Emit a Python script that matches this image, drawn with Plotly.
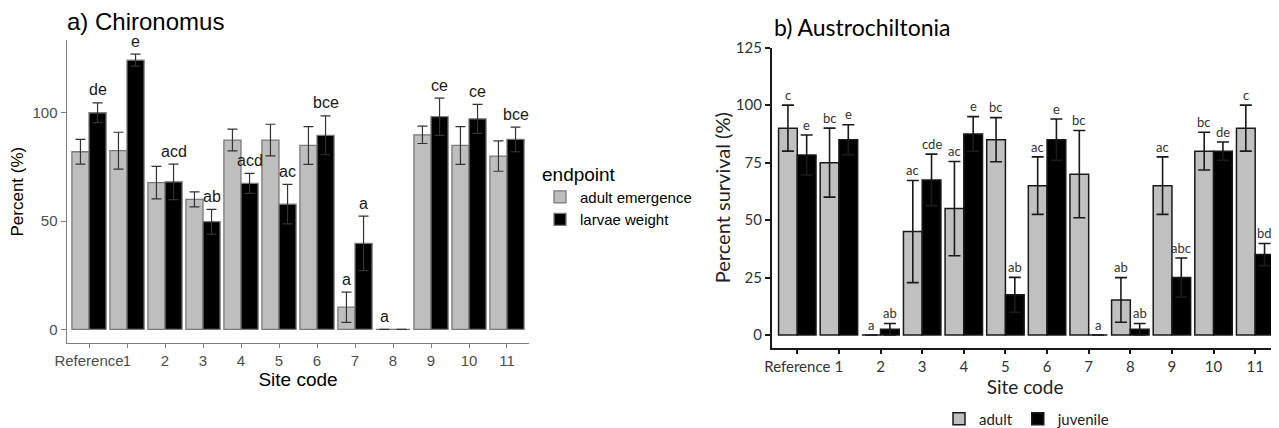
import plotly.graph_objects as go

# ---------------- data ----------------
sites = ["Reference", "1", "2", "3", "4", "5", "6", "7", "8", "9", "10", "11"]

# a) Chironomus
chiro_adult = [82, 82.5, 67.7, 60, 87.4, 87.4, 84.9, 10.2, 0, 89.8, 84.9, 80]
chiro_adult_se = [5.7, 8.5, 7.5, 3.5, 5, 7.3, 8.7, 7, 0, 4, 8.7, 7]
chiro_larvae = [100, 124.3, 68.1, 49.7, 67.4, 57.8, 89.6, 39.7, 0, 98.2, 97.2, 87.7]
chiro_larvae_se = [4.6, 2.8, 8.2, 5.7, 4.6, 9.1, 9, 12.6, 0, 8.6, 6.7, 5.7]
chiro_adult_letters = ["", "", "", "", "", "", "", "a", "a", "", "", ""]
chiro_larvae_letters = ["de", "e", "acd", "ab", "acd", "ac", "bce", "a", "", "ce", "ce", "bce"]

# b) Austrochiltonia
aus_adult = [90, 75, 0, 45, 55, 85, 65, 70, 15.3, 65, 80, 90]
aus_adult_se = [10, 15, 0, 22.2, 20.5, 9.6, 12.5, 19, 9.7, 12.5, 8.2, 10]
aus_juv = [78.3, 85, 2.5, 67.5, 87.5, 17.5, 85, 0, 2.5, 25, 80, 35]
aus_juv_se = [8.7, 6.5, 2.5, 11.2, 7.5, 7.6, 9, 0, 2.5, 8.5, 4, 4.8]
aus_adult_letters = ["c", "bc", "a", "ac", "ac", "bc", "ac", "bc", "ab", "ac", "bc", "c"]
aus_juv_letters = ["e", "e", "ab", "cde", "e", "ab", "e", "a", "ab", "abc", "de", "bd"]

# ---------------- styling ----------------
OFF = 8                     # page body margin
W, H = 1279 - OFF, 428 - OFF
FA = "Liberation Sans, Arial, sans-serif"
FB = "Lato, Open Sans, sans-serif"
GRAY = "#BEBEBE"


def px_x(p):
    return (p - OFF) / W


def px_y(p):
    return (H - (p - OFF)) / H


fig = go.Figure()

# left panel traces
fig.add_trace(go.Bar(
    x=sites, y=chiro_adult, name="adult emergence", offsetgroup="A",
    marker=dict(color=GRAY, line=dict(color="#7a7a7a", width=1.3)),
    error_y=dict(type="data", array=chiro_adult_se, color="#333333", thickness=1.2, width=5),
    xaxis="x", yaxis="y", legend="legend",
))
fig.add_trace(go.Bar(
    x=sites, y=chiro_larvae, name="larvae weight", offsetgroup="B",
    marker=dict(color="#000000", line=dict(color="#7a7a7a", width=1.3)),
    error_y=dict(type="data", array=chiro_larvae_se, color="#333333", thickness=1.2, width=5),
    xaxis="x", yaxis="y", legend="legend",
))

# right panel traces
fig.add_trace(go.Bar(
    x=sites, y=aus_adult, name="adult", offsetgroup="A",
    marker=dict(color="#C0C0C0", line=dict(color="#1a1a1a", width=1.5)),
    error_y=dict(type="data", array=aus_adult_se, color="#1a1a1a", thickness=1.6, width=6),
    xaxis="x2", yaxis="y2", legend="legend2",
))
fig.add_trace(go.Bar(
    x=sites, y=aus_juv, name="juvenile", offsetgroup="B",
    marker=dict(color="#000000", line=dict(color="#1a1a1a", width=1.5)),
    error_y=dict(type="data", array=aus_juv_se, color="#1a1a1a", thickness=1.6, width=6),
    xaxis="x2", yaxis="y2", legend="legend2",
))

annotations = []
# significance letters, left panel
for s, v, e, t in zip(sites, chiro_adult, chiro_adult_se, chiro_adult_letters):
    if t:
        annotations.append(dict(x=s, y=v + e + 6, xref="x", yref="y", text=t, showarrow=False,
                                xshift=-8.6, yanchor="middle", font=dict(family=FA, size=16, color="#1a1a1a")))
for s, v, e, t in zip(sites, chiro_larvae, chiro_larvae_se, chiro_larvae_letters):
    if t:
        annotations.append(dict(x=s, y=v + e + 6, xref="x", yref="y", text=t, showarrow=False,
                                xshift=8.6, yanchor="middle", font=dict(family=FA, size=16, color="#1a1a1a")))
# right panel
for s, v, e, t in zip(sites, aus_adult, aus_adult_se, aus_adult_letters):
    if t:
        annotations.append(dict(x=s, y=v + e + 4.5, xref="x2", yref="y2", text=t, showarrow=False,
                                xshift=-9.4, yanchor="middle", font=dict(family=FB, size=13, color="#333333")))
for s, v, e, t in zip(sites, aus_juv, aus_juv_se, aus_juv_letters):
    if t:
        annotations.append(dict(x=s, y=v + e + 4.5, xref="x2", yref="y2", text=t, showarrow=False,
                                xshift=9.4, yanchor="middle", font=dict(family=FB, size=13, color="#333333")))

# panel titles
annotations.append(dict(x=px_x(65), y=px_y(21), xref="paper", yref="paper", text="a) Chironomus",
                        showarrow=False, xanchor="left", yanchor="middle",
                        font=dict(family=FA, size=24, color="#000000")))
annotations.append(dict(x=px_x(772), y=px_y(27), xref="paper", yref="paper", text="b) Austrochiltonia",
                        showarrow=False, xanchor="left", yanchor="middle",
                        font=dict(family=FB, size=23, color="#000000")))

fig.update_layout(
    width=W, height=H,
    margin=dict(l=0, r=0, t=0, b=0, autoexpand=False),
    paper_bgcolor="white", plot_bgcolor="white",
    barmode="group", bargap=0.1, bargroupgap=0,
    annotations=annotations,
    xaxis=dict(
        domain=[px_x(66.7), px_x(529.3)], type="category", range=[-0.587, 11.587],
        showline=True, linecolor="#7f7f7f", linewidth=1.3, automargin=False,
        ticks="outside", ticklen=4, tickcolor="#7f7f7f", tickwidth=1.2, tickangle=0,
        tickfont=dict(family=FA, size=15, color="#4d4d4d"),
        title=dict(text="Site code", font=dict(family=FA, size=19, color="#000000"), standoff=0),
        showgrid=False, zeroline=False, anchor="y",
    ),
    yaxis=dict(
        domain=[px_y(343.3), px_y(40)], range=[-6.46, 133.6],
        tickvals=[0, 50, 100], automargin=False,
        showline=True, linecolor="#7f7f7f", linewidth=1.3,
        ticks="outside", ticklen=5, tickcolor="#7f7f7f", tickwidth=1.2,
        tickfont=dict(family=FA, size=15, color="#4d4d4d"),
        title=dict(text="Percent (%)", font=dict(family=FA, size=17, color="#000000"), standoff=7),
        showgrid=False, zeroline=False, anchor="x",
    ),
    xaxis2=dict(
        domain=[px_x(771.7), px_x(1278.5)], type="category", range=[-0.615, 11.56],
        showline=True, linecolor="#1a1a1a", linewidth=1.5, automargin=False,
        ticks="outside", ticklen=5, tickcolor="#1a1a1a", tickwidth=1.5, tickangle=0,
        tickfont=dict(family=FB, size=15, color="#333333"),
        title=dict(text="Site code", font=dict(family=FB, size=19, color="#222222"), standoff=5),
        showgrid=False, zeroline=False, anchor="y2",
    ),
    yaxis2=dict(
        domain=[px_y(347.7), px_y(47.7)], range=[-5.5, 125],
        tickvals=[0, 25, 50, 75, 100, 125], automargin=False,
        showline=True, linecolor="#1a1a1a", linewidth=1.5,
        ticks="outside", ticklen=5, tickcolor="#1a1a1a", tickwidth=1.5,
        tickfont=dict(family=FB, size=15, color="#333333"),
        title=dict(text="Percent survival (%)", font=dict(family=FB, size=20, color="#222222"), standoff=0),
        showgrid=False, zeroline=False, anchor="x2",
    ),
    legend=dict(
        title=dict(text="endpoint", font=dict(family=FA, size=19, color="#000000")),
        font=dict(family=FA, size=15, color="#000000"),
        x=px_x(540), y=px_y(156), xanchor="left", yanchor="top",
        bgcolor="rgba(0,0,0,0)", itemwidth=30, tracegroupgap=0,
    ),
    legend2=dict(
        orientation="h",
        font=dict(family=FB, size=15, color="#222222"),
        x=px_x(1027), y=px_y(419), xanchor="center", yanchor="middle",
        bgcolor="rgba(0,0,0,0)", itemwidth=30,
    ),
)

fig.write_html("out.html")
